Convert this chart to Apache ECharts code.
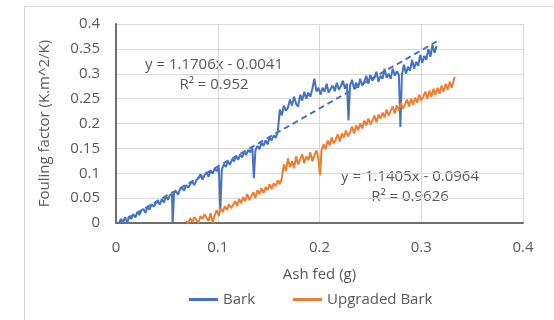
<!DOCTYPE html>
<html><head><meta charset="utf-8">
<script src="https://cdn.jsdelivr.net/npm/echarts@6/dist/echarts.min.js"></script>
<style>html,body{margin:0;padding:0;background:#fff}#c{width:554px;height:320px}</style>
</head><body><div id="c"></div>
<script>
const xTicks = [0, 0.1, 0.2, 0.3, 0.4];
const yTicks = [0, 0.05, 0.1, 0.15, 0.2, 0.25, 0.3, 0.35, 0.4];
const seriesNames = ['Bark', 'Upgraded Bark'];

const barkX = [0.003,0.005,0.007,0.009,0.011,0.013,0.015,0.017,0.019,0.021,0.023,0.025,0.027,0.029,0.031,0.033,0.035,0.037,0.039,0.041,0.043,0.045,0.047,0.049,0.051,0.053,0.055,0.0557,0.057,0.059,0.061,0.063,0.065,0.067,0.069,0.071,0.073,0.075,0.077,0.079,0.081,0.083,0.085,0.087,0.089,0.091,0.093,0.095,0.097,0.099,0.101,0.1025,0.104,0.106,0.108,0.110,0.112,0.114,0.116,0.118,0.120,0.122,0.124,0.126,0.128,0.130,0.132,0.134,0.1355,0.137,0.139,0.141,0.143,0.145,0.147,0.149,0.151,0.153,0.155,0.157,0.159,0.161,0.163,0.165,0.167,0.169,0.171,0.173,0.175,0.177,0.179,0.181,0.183,0.185,0.187,0.189,0.191,0.193,0.195,0.197,0.199,0.201,0.203,0.205,0.207,0.209,0.211,0.213,0.215,0.217,0.219,0.221,0.223,0.225,0.227,0.2285,0.230,0.232,0.234,0.236,0.238,0.240,0.242,0.244,0.246,0.248,0.250,0.252,0.254,0.256,0.258,0.260,0.262,0.264,0.266,0.268,0.270,0.272,0.274,0.276,0.278,0.2795,0.281,0.283,0.285,0.287,0.289,0.291,0.293,0.295,0.297,0.299,0.301,0.303,0.305,0.307,0.309,0.311,0.313,0.315];
const barkY = [0.000,0.008,0.002,0.012,0.000,0.014,0.008,0.018,0.011,0.022,0.016,0.026,0.028,0.020,0.032,0.027,0.038,0.033,0.039,0.044,0.037,0.048,0.041,0.053,0.047,0.056,0.058,0.000,0.060,0.064,0.057,0.068,0.070,0.065,0.076,0.071,0.078,0.083,0.076,0.086,0.090,0.098,0.087,0.096,0.102,0.093,0.106,0.099,0.110,0.104,0.112,0.025,0.107,0.118,0.113,0.124,0.117,0.128,0.124,0.135,0.127,0.138,0.132,0.143,0.137,0.147,0.142,0.150,0.090,0.146,0.155,0.148,0.162,0.155,0.166,0.158,0.172,0.166,0.176,0.171,0.184,0.228,0.216,0.236,0.226,0.232,0.248,0.236,0.254,0.240,0.234,0.258,0.246,0.264,0.250,0.262,0.254,0.270,0.290,0.264,0.272,0.258,0.272,0.264,0.280,0.262,0.270,0.276,0.265,0.282,0.268,0.275,0.286,0.270,0.280,0.206,0.276,0.288,0.270,0.282,0.272,0.290,0.276,0.284,0.296,0.280,0.298,0.286,0.292,0.304,0.284,0.296,0.290,0.310,0.292,0.300,0.290,0.310,0.296,0.305,0.298,0.193,0.298,0.318,0.300,0.314,0.306,0.328,0.310,0.324,0.316,0.338,0.322,0.336,0.328,0.350,0.334,0.358,0.342,0.356];

const upX = [0.069,0.071,0.073,0.075,0.077,0.079,0.081,0.083,0.085,0.087,0.089,0.091,0.093,0.095,0.097,0.099,0.101,0.103,0.105,0.107,0.109,0.111,0.113,0.115,0.117,0.119,0.121,0.123,0.125,0.127,0.129,0.131,0.133,0.135,0.137,0.139,0.141,0.143,0.145,0.147,0.149,0.151,0.153,0.155,0.157,0.159,0.161,0.163,0.165,0.167,0.169,0.171,0.173,0.175,0.177,0.179,0.181,0.183,0.185,0.187,0.189,0.191,0.193,0.195,0.197,0.199,0.2005,0.202,0.204,0.206,0.208,0.210,0.212,0.214,0.216,0.218,0.220,0.222,0.224,0.226,0.228,0.230,0.232,0.234,0.236,0.238,0.240,0.242,0.244,0.246,0.248,0.250,0.252,0.254,0.256,0.258,0.260,0.262,0.264,0.266,0.268,0.270,0.272,0.274,0.276,0.278,0.280,0.282,0.284,0.286,0.288,0.290,0.292,0.294,0.296,0.298,0.300,0.302,0.304,0.306,0.308,0.310,0.312,0.314,0.316,0.318,0.320,0.322,0.324,0.326,0.328,0.330,0.332,0.333];
const upY = [0.004,0.000,0.010,0.002,0.012,0.006,0.000,0.014,0.008,0.018,0.010,0.004,0.020,0.000,0.016,0.026,0.014,0.030,0.022,0.034,0.026,0.038,0.030,0.036,0.044,0.034,0.048,0.040,0.052,0.044,0.058,0.046,0.054,0.062,0.050,0.066,0.058,0.070,0.060,0.072,0.066,0.078,0.068,0.080,0.074,0.086,0.078,0.090,0.118,0.104,0.130,0.112,0.124,0.110,0.134,0.118,0.128,0.138,0.120,0.134,0.126,0.142,0.124,0.136,0.146,0.128,0.096,0.146,0.158,0.148,0.166,0.156,0.172,0.160,0.168,0.178,0.164,0.180,0.172,0.186,0.174,0.182,0.194,0.180,0.196,0.186,0.200,0.190,0.206,0.196,0.210,0.198,0.206,0.216,0.202,0.218,0.210,0.222,0.212,0.228,0.216,0.226,0.234,0.220,0.236,0.226,0.242,0.230,0.238,0.248,0.234,0.250,0.238,0.252,0.242,0.258,0.246,0.254,0.264,0.250,0.266,0.254,0.270,0.258,0.272,0.260,0.276,0.264,0.280,0.268,0.284,0.272,0.288,0.294];

const barkTrendX = [0.003, 0.315];
const barkTrendY = [0.000, 0.3646];

const barkEq = ['y = 1.1706x - 0.0041', 'R² = 0.952'];
const upEq = ['y = 1.1405x - 0.0964', 'R² = 0.9626'];

const zip = (a, b) => a.map((v, i) => [v, b[i]]);
const FONT = '"Open Sans", sans-serif';
const TXT = '#595959';
const FS = 15;

const chart = echarts.init(document.getElementById('c'), null, {renderer: 'canvas'});
chart.setOption({
  animation: false,
  backgroundColor: '#fff',
  grid: {left: 116, right: 31, top: 24, bottom: 97, containLabel: false},
  xAxis: {
    type: 'value', min: 0, max: 0.4, interval: 0.1,
    name: 'Ash fed (g)', nameLocation: 'middle', nameGap: 44,
    nameTextStyle: {fontFamily: FONT, fontSize: FS, color: TXT},
    axisLine: {show: true, onZero: false, lineStyle: {color: '#6e6e6e', width: 2}},
    axisTick: {show: false},
    axisLabel: {fontFamily: FONT, fontSize: FS, color: TXT, margin: 17,
      formatter: v => xTicks.includes(+v.toFixed(2)) ? String(+v.toFixed(2)) : ''},
    splitLine: {show: true, lineStyle: {color: '#d9d9d9', width: 1}}
  },
  yAxis: {
    type: 'value', min: 0, max: 0.4, interval: 0.05,
    name: 'Fouling factor (K.m^2/K)', nameLocation: 'middle', nameGap: 64, nameRotate: 90,
    nameTextStyle: {fontFamily: FONT, fontSize: FS, color: TXT},
    axisLine: {show: true, onZero: false, lineStyle: {color: '#6e6e6e', width: 2}},
    axisTick: {show: false},
    axisLabel: {fontFamily: FONT, fontSize: FS, color: TXT, margin: 16,
      formatter: v => yTicks.includes(+v.toFixed(2)) ? String(+v.toFixed(2)) : ''},
    splitLine: {show: true, lineStyle: {color: '#d9d9d9', width: 1}}
  },
  legend: {
    data: seriesNames, left: 184, top: 287, itemWidth: 29, itemHeight: 3, itemGap: 38,
    icon: 'rect',
    textStyle: {fontFamily: FONT, fontSize: FS, color: TXT}
  },
  graphic: [
    {type: 'rect', silent: true, z: -10, shape: {x: 24.5, y: 6.5, width: 700, height: 500},
      style: {fill: 'none', stroke: '#d9d9d9', lineWidth: 1}},
    {type: 'text', x: 214, y: 65, style: {text: barkEq[0], align: 'center', verticalAlign: 'middle', font: FS + 'px ' + FONT, fill: TXT}},
    {type: 'text', x: 214, y: 85, style: {text: barkEq[1], align: 'center', verticalAlign: 'middle', font: FS + 'px ' + FONT, fill: TXT}},
    {type: 'text', x: 410, y: 177, style: {text: upEq[0], align: 'center', verticalAlign: 'middle', font: FS + 'px ' + FONT, fill: TXT}},
    {type: 'text', x: 410, y: 197, style: {text: upEq[1], align: 'center', verticalAlign: 'middle', font: FS + 'px ' + FONT, fill: TXT}}
  ],
  series: [
    {name: seriesNames[0], type: 'line', data: zip(barkX, barkY), showSymbol: false, z: 2,
      lineStyle: {color: '#4472C4', width: 2}, itemStyle: {color: '#4472C4'}},
    {name: seriesNames[1], type: 'line', data: zip(upX, upY), showSymbol: false, z: 2,
      lineStyle: {color: '#ED7D31', width: 2}, itemStyle: {color: '#ED7D31'}},
    {name: 'Bark trend', type: 'line', data: zip(barkTrendX, barkTrendY), showSymbol: false, z: 3,
      lineStyle: {color: '#4472C4', width: 2, type: [6, 4]}, itemStyle: {color: '#4472C4'}}
  ]
});
</script></body></html>
